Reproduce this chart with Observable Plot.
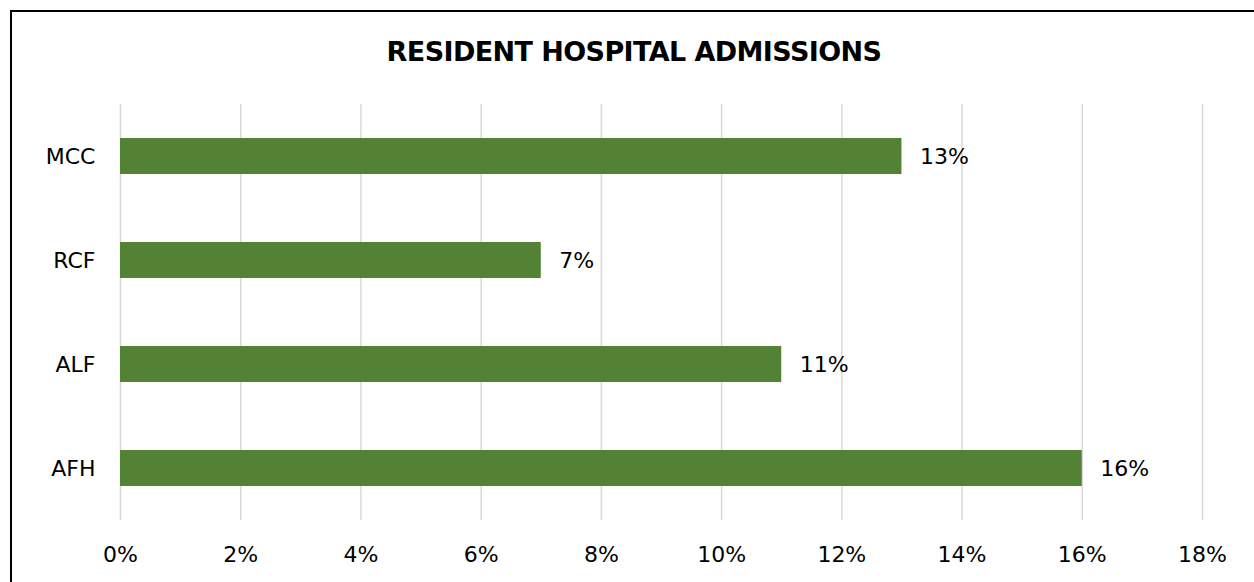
<!DOCTYPE html>
<html>
<head>
<meta charset="utf-8">
<script src="https://cdn.jsdelivr.net/npm/d3@7"></script>
<script src="https://cdn.jsdelivr.net/npm/@observablehq/plot@0.6"></script>
<style>
  html, body { margin: 0; padding: 0; background: #fff; overflow: hidden; }
  body { width: 1254px; height: 582px; position: relative; font-family: "DejaVu Sans", sans-serif; }
  #frame { position: absolute; left: 10px; top: 10px; width: 1300px; height: 700px; border: 2px solid #000; box-sizing: border-box; }
  #title { position: absolute; left: 0; top: 36px; width: 1268px; text-align: center; font-size: 27px; font-weight: bold; color: #000; font-family: "DejaVu Sans", sans-serif; letter-spacing: -0.6px; }
  #chart { position: absolute; left: 0; top: 0; }
</style>
</head>
<body>
<div id="frame"></div>
<div id="title">RESIDENT HOSPITAL ADMISSIONS</div>
<div id="chart"></div>
<script>
const categories = ["MCC", "RCF", "ALF", "AFH"];
const values = [0.13, 0.07, 0.11, 0.16];
const tickValues = [0, 0.02, 0.04, 0.06, 0.08, 0.10, 0.12, 0.14, 0.16, 0.18];

const data = categories.map((c, i) => ({category: c, value: values[i]}));
const pct = d3.format(".0%");

const chart = Plot.plot({
  width: 1254,
  height: 582,
  marginTop: 104,
  marginBottom: 62,
  marginLeft: 120,
  marginRight: 52,
  style: {fontFamily: "DejaVu Sans, sans-serif", fontSize: "22px", color: "#000", background: "transparent", overflow: "visible"},
  x: {domain: [0, 0.18], ticks: tickValues, tickFormat: pct, label: null},
  y: {domain: categories, paddingInner: 0.655, paddingOuter: 0.3275, label: null},
  marks: [
    Plot.ruleX(tickValues, {stroke: "#d9d9d9", strokeWidth: 1.5}),
    Plot.barX(data, {x: "value", y: "category", fill: "#548235"}),
    Plot.text(data, {x: "value", y: "category", text: d => pct(d.value), textAnchor: "start", dx: 18, fill: "#000", fontSize: 22}),
    Plot.axisX({ticks: tickValues, tickFormat: pct, tickSize: 0, tickPadding: 26, fontSize: 22, label: null}),
    Plot.axisY({tickSize: 0, tickPadding: 25, fontSize: 22, label: null})
  ]
});
document.getElementById("chart").appendChild(chart);
</script>
</body>
</html>
